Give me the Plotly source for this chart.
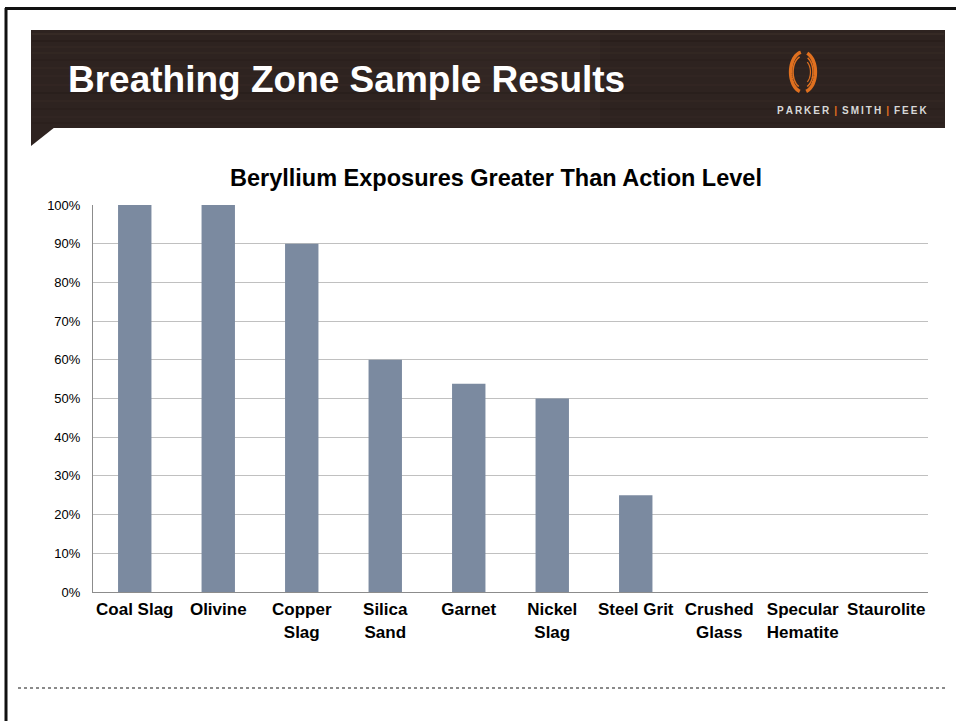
import numpy as np
import plotly.graph_objects as go

categories = ["Coal Slag", "Olivine", "Copper<br>Slag", "Silica<br>Sand", "Garnet",
              "Nickel<br>Slag", "Steel Grit", "Crushed<br>Glass", "Specular<br>Hematite", "Staurolite"]
percent_above = [1.00, 1.00, 0.90, 0.60, 0.538, 0.50, 0.25, 0.0, 0.0, 0.0]

W, H = 956, 721
L, R, T, B = 93, 28, 205, 129
PW, PH = W - L - R, H - T - B
FONT = "Liberation Sans, Arial"


def px(x):
    return (x - L) / PW


def py(y):
    return (H - B - y) / PH


fig = go.Figure()
fig.add_trace(go.Bar(x=categories, y=percent_above, marker_color="#7B8AA0",
                     marker_line_width=0, hoverinfo="x+y"))

shapes = []
# slide border (top & left)
shapes.append(dict(type="line", xref="paper", yref="paper", x0=px(5), x1=px(956), y0=py(8.5), y1=py(8.5),
                   line=dict(color="#111", width=3)))
shapes.append(dict(type="line", xref="paper", yref="paper", x0=px(6), x1=px(6), y0=py(8), y1=py(721),
                   line=dict(color="#111", width=3)))
# banner
shapes.append(dict(type="rect", xref="paper", yref="paper", x0=px(31), x1=px(945), y0=py(30), y1=py(128),
                   fillcolor="#2e2320", line=dict(width=0), layer="below"))
# wood texture streaks
streaks = [(34, "#3a2d28", 2), (41, "#271d1a", 2), (47, "#3a2e29", 1), (53, "#352924", 2),
           (60, "#2a201c", 2), (68, "#3b2e29", 1), (76, "#332723", 2), (85, "#3a2d28", 1),
           (93, "#281e1b", 2), (101, "#3b2e29", 1), (109, "#2b201c", 2), (117, "#382b26", 1), (123, "#2a1f1c", 2)]
for yy, c, w in streaks:
    shapes.append(dict(type="line", xref="paper", yref="paper", x0=px(32), x1=px(944), y0=py(yy), y1=py(yy),
                       line=dict(color=c, width=w), opacity=0.7, layer="below"))
shapes.append(dict(type="rect", xref="paper", yref="paper", x0=px(420), x1=px(600), y0=py(31), y1=py(127),
                   fillcolor="#4a3a33", line=dict(width=0), opacity=0.15, layer="below"))
# banner flap
shapes.append(dict(type="path", xref="paper", yref="paper",
                   path=f"M {px(31)},{py(127)} L {px(55)},{py(127)} L {px(31)},{py(146)} Z",
                   fillcolor="#2e2320", line=dict(width=0)))
# logo arcs
cx, cy = 803, 72
for (r0, a0, a1, wd) in [(20, 100, 255, 3.5), (16, 110, 245, 1.5), (20, -75, 70, 3.5), (16, -65, 62, 1.5),
                         (12, -55, 55, 1.2)]:
    t = np.radians(np.linspace(a0, a1, 30))
    xs = cx + r0 * 0.62 * np.cos(t)
    ys = cy - r0 * np.sin(t)
    p = "M " + " L ".join(f"{px(a)},{py(b)}" for a, b in zip(xs, ys))
    shapes.append(dict(type="path", xref="paper", yref="paper", path=p,
                       line=dict(color="#e0701f", width=wd)))
# dotted separator
shapes.append(dict(type="line", xref="paper", yref="paper", x0=px(18), x1=px(945), y0=py(688), y1=py(688),
                   line=dict(color="#8a8a8a", width=2, dash="dot")))

sp = "\u2009"
bar = "\u2002<span style='color:#e0701f'>|</span>\u2002"
logo_txt = sp.join("PARKER") + bar + sp.join("SMITH") + bar + sp.join("FEEK")

annotations = [
    dict(text="<b>Breathing Zone Sample Results</b>", xref="paper", yref="paper", x=px(66), y=py(80),
         xanchor="left", yanchor="middle", showarrow=False,
         font=dict(family=FONT, size=37, color="white")),
    dict(text="<b>" + logo_txt + "</b>",
         xref="paper", yref="paper", x=px(929), y=py(111), xanchor="right", yanchor="middle", showarrow=False,
         font=dict(family=FONT, size=10, color="#d8d8d8")),
    dict(text="<b>Beryllium Exposures Greater Than Action Level</b>", xref="paper", yref="paper",
         x=px(496), y=py(178), xanchor="center", yanchor="middle", showarrow=False,
         font=dict(family=FONT, size=23.5, color="black")),
]

fig.update_layout(
    width=W, height=H, margin=dict(l=L, r=R, t=T, b=B),
    paper_bgcolor="white", plot_bgcolor="white",
    bargap=0.6, showlegend=False,
    shapes=shapes, annotations=annotations,
    font=dict(family=FONT, color="black"),
)
fig.update_yaxes(range=[0, 1], dtick=0.1, tickformat=".0%", showgrid=True, gridcolor="#c0c0c0",
                 gridwidth=1, showline=True, linecolor="#8c8c8c", linewidth=1, zeroline=False,
                 ticks="", ticklabelstandoff=9, tickfont=dict(size=13, family=FONT),
                 fixedrange=True)
fig.update_xaxes(showline=True, linecolor="#8c8c8c", linewidth=1, ticks="", tickangle=0,
                 tickfont=dict(size=17, family=FONT, color="black"),
                 ticklabelstandoff=2, fixedrange=True)
fig.update_xaxes(tickprefix="<b>", ticksuffix="</b>")

fig.write_html("out.html", config={"displayModeBar": False},
               post_script="document.body.style.margin='0';document.body.style.overflow='hidden';")
